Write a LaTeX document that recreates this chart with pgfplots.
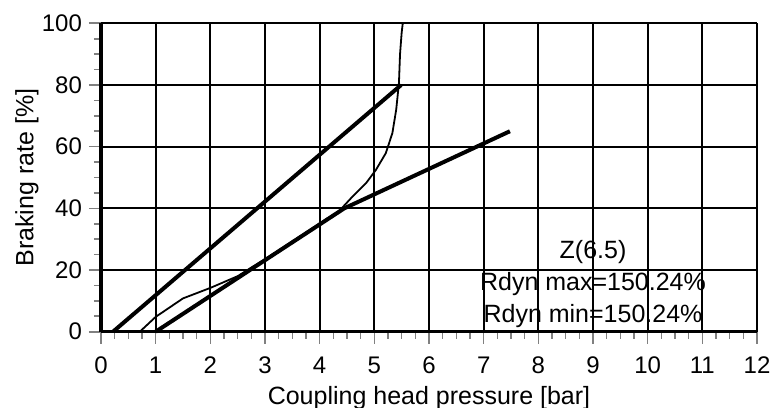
\documentclass[border=0pt]{standalone}
\usepackage{fontspec}
\setmainfont{Liberation Sans}
\usepackage{pgfplots}
\pgfplotsset{compat=1.18}
\begin{document}
\begin{tikzpicture}
\useasboundingbox (0,0) rectangle (387pt,203.5pt);
\begin{axis}[
  at={(50.5pt,37.65pt)}, anchor=south west,
  scale only axis, width=328pt, height=154.2pt,
  xmin=0, xmax=12, ymin=0, ymax=100,
  xtick={0,1,...,12}, ytick={0,20,...,100},
  minor x tick num=3, minor y tick num=3,
  axis x line*=bottom, axis y line*=left,
  axis line style={line width=1.6pt, black, -},
  tick align=outside,
  major tick length=6pt, minor tick length=3.5pt,
  tick style={gray, line width=0.8pt},
  minor tick style={gray, line width=0.8pt},
  grid=major,
  major grid style={black, line width=1pt},
  /pgf/number format/assume math mode=true,
  ticklabel style={font=\fontsize{12}{14}\selectfont},
  xticklabel style={yshift=-3pt},
  label style={font=\fontsize{12.5}{15}\selectfont},
  xlabel={Coupling head pressure [bar]},
  ylabel={Braking rate [\%]},
  xlabel style={at={([yshift=-33pt]rel axis cs:0.5,0)}, anchor=center},
  ylabel style={at={([xshift=-37pt]rel axis cs:0,0.5)}, anchor=center},
  clip=false,
]
\addplot[black, line width=2pt] coordinates {(0.22,0) (5.49,80)};
\addplot[black, line width=2pt] coordinates {(1.0,0) (4.45,40) (7.48,65)};
\addplot[black, line width=0.9pt] coordinates {
(0.71,0) (1.0,4.8) (1.5,10.8) (2.0,14.2) (2.5,18.0) (2.75,20.8) (3.0,23.5)
(3.5,29.3) (4.0,35.1) (4.36,39.2) (4.6,43.8) (4.85,48.2) (5.03,52.5)
(5.21,57.9) (5.33,64.4) (5.40,72) (5.45,80.6) (5.47,90) (5.5,97) (5.52,100)};
\node[font=\fontsize{12.5}{15}\selectfont, anchor=center] at (axis cs:9.0,25.9) {Z(6.5)};
\node[font=\fontsize{12.5}{15}\selectfont, anchor=center] at (axis cs:9.0,15.5) {Rdyn max=150.24\%};
\node[font=\fontsize{12.5}{15}\selectfont, anchor=center] at (axis cs:9.0,5.0) {Rdyn min=150.24\%};
\end{axis}
\end{tikzpicture}
\end{document}
